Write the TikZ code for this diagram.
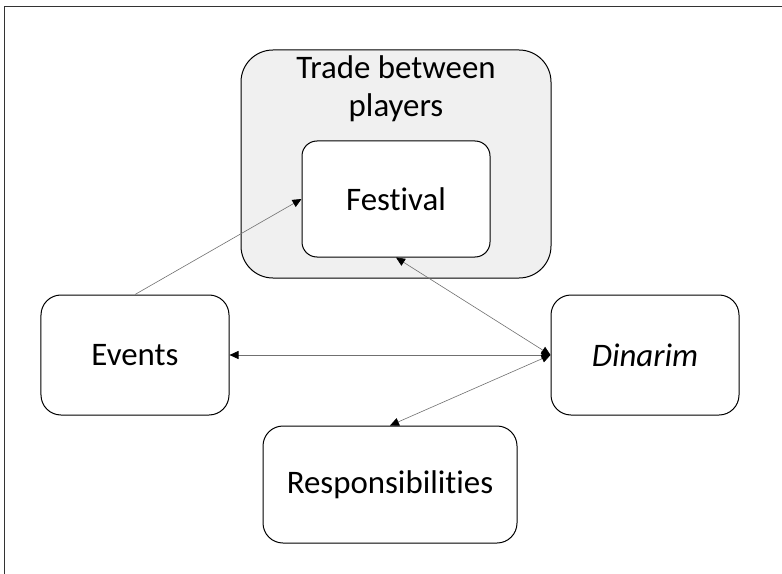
\documentclass[tikz,border=0pt]{standalone}
\usepackage{fontspec}
\setmainfont{Carlito}[RawFeature={-liga;-dlig;-clig}]
\usetikzlibrary{arrows.meta}
\definecolor{panelfill}{HTML}{F0F0F0}
\definecolor{linkgray}{HTML}{707070}
\tikzset{
  box/.style={draw=black, line width=1bp, fill=white, rounded corners=20bp,
    font=\fontsize{33}{39}\selectfont, align=center, inner sep=0pt},
  panel/.style={draw=black, line width=1bp, fill=panelfill, rounded corners=32bp, inner sep=0pt},
  link/.style={draw=linkgray, line width=0.6bp},
  tip/.tip={Triangle[length=9bp,width=8bp,fill=black,color=black]},
}
\begin{document}
\begin{tikzpicture}[x=1bp,y=-1bp]
\useasboundingbox (0,0) rectangle (782,574);
% frame
\draw[line width=1bp, color=black!80] (4.5,574) -- (4.5,7) -- (782,7);
% panel
\node[panel, minimum width=310bp, minimum height=228bp] (trade) at (396,164) {};
\node[font=\fontsize{33}{39}\selectfont, align=center, anchor=north, inner sep=5bp] (tradelabel) at (396,50) {Trade between\\players};
\node[box, rounded corners=15bp, minimum width=188bp, minimum height=116bp] (festival) at (396,199) {Festival};
\node[box, minimum width=188bp, minimum height=120bp] (events) at (135,355) {Events};
\node[box, minimum width=188bp, minimum height=120bp] (dinarim) at (645,355) {\textit{Dinarim}};
\node[box, minimum width=254bp, minimum height=117bp] (resp) at (390,484.5) {Responsibilities};
% links
\draw[link, -{tip}] (events.north) -- (festival.west);
\draw[link, {tip}-{tip}] (dinarim.west) -- (events.east);
\draw[link, {tip}-{tip}] (dinarim.west) -- (festival.south);
\draw[link, {tip}-{tip}] (dinarim.west) -- (resp.north);
\end{tikzpicture}
\end{document}
